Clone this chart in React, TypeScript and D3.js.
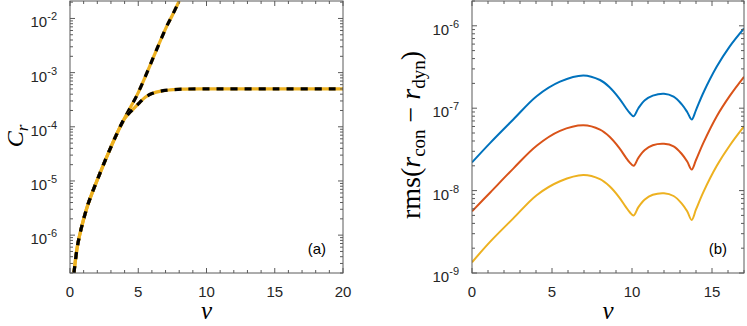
import React from 'react';
import * as d3 from 'd3';

// panel (a): C_r against v, two branches sharing the low-v part
const sharedV = [0.29, 0.54, 0.86, 1.35, 2.2, 3.06, 3.5, 3.92];
const sharedC = [2e-7, 6.2e-7, 1.45e-6, 3.9e-6, 1.4e-5, 4.6e-5, 8.1e-5, 1.32e-4];
const upperV = [4.3, 4.9, 5.64, 6.3, 7.1, 7.5, 8.0];
const upperC = [2e-4, 3.8e-4, 1e-3, 2.5e-3, 7.3e-3, 1.15e-2, 2.1e-2];
const lowerV = [4.3, 4.7, 5.1, 5.51, 6.0, 6.74, 7.35, 8.2, 10, 15, 20];
const lowerC = [1.75e-4, 2.2e-4, 2.8e-4, 3.5e-4, 4.1e-4, 4.6e-4, 4.8e-4, 4.95e-4, 5e-4, 5e-4, 5e-4];

// panel (b): rms(r_con - r_dyn) for three cases
const rmsV = [0, 1.14, 2.58, 4.04, 5.5, 6.96, 8.0, 8.6, 9.2, 9.6, 9.85, 10.1, 10.4, 10.8, 11.3, 12.0, 12.6, 13.1, 13.45, 13.73, 14.0, 14.46, 15.3, 16.1, 17];
const rmsBlue = [2.2e-8, 3.8e-8, 7.3e-8, 1.4e-7, 2.1e-7, 2.5e-7, 2.2e-7, 1.8e-7, 1.32e-7, 1.02e-7, 8.8e-8, 8e-8, 1.0e-7, 1.25e-7, 1.42e-7, 1.5e-7, 1.38e-7, 1.12e-7, 9e-8, 7.3e-8, 9.5e-8, 1.54e-7, 3.2e-7, 5.6e-7, 9.3e-7];
const rmsOrange = [5.6e-9, 9.5e-9, 1.85e-8, 3.5e-8, 5.3e-8, 6.2e-8, 5.5e-8, 4.5e-8, 3.3e-8, 2.55e-8, 2.2e-8, 2.0e-8, 2.5e-8, 3.1e-8, 3.55e-8, 3.7e-8, 3.45e-8, 2.8e-8, 2.25e-8, 1.8e-8, 2.35e-8, 3.8e-8, 8e-8, 1.4e-7, 2.4e-7];
const rmsYellow = [1.35e-9, 2.4e-9, 4.6e-9, 8.8e-9, 1.3e-8, 1.55e-8, 1.38e-8, 1.13e-8, 8.3e-9, 6.4e-9, 5.5e-9, 5e-9, 6.3e-9, 7.8e-9, 8.9e-9, 9.3e-9, 8.6e-9, 7e-9, 5.6e-9, 4.4e-9, 5.9e-9, 9.6e-9, 2e-8, 3.5e-8, 6e-8];

const xTicksA = [0, 5, 10, 15, 20];
const yDecadesA = [-6, -5, -4, -3, -2];
const xTicksB = [0, 5, 10, 15];
const yDecadesB = [-9, -8, -7, -6];

const tickFont = '"Liberation Sans", Arial, sans-serif';
const mathFont = '"Liberation Serif", "Times New Roman", serif';
const axisColor = '#5a5a5a';

type Pt = [number, number];
const zip = (xs: number[], ys: number[]): Pt[] => xs.map((x, i) => [x, ys[i]]);

function Panel({ id, left, right, top, bottom, xDomain, yDomain, xTicks, decades, tag, children }: any) {
  const x = d3.scaleLinear().domain(xDomain).range([left, right]);
  const y = d3.scaleLog().domain(yDomain).range([bottom, top]);
  const minorX = d3.range(xDomain[0], xDomain[1] + 0.001, 1).filter((v) => !xTicks.includes(v));
  const minorY: number[] = [];
  for (let k = Math.floor(Math.log10(yDomain[0])); k <= Math.ceil(Math.log10(yDomain[1])); k++) {
    for (let j = 2; j <= 9; j++) {
      const v = j * Math.pow(10, k);
      if (v >= yDomain[0] && v <= yDomain[1]) minorY.push(v);
    }
  }
  const major = 5;
  const minor = 3;
  return (
    <g>
      <defs>
        <clipPath id={id}>
          <rect x={left} y={top} width={right - left} height={bottom - top} />
        </clipPath>
      </defs>
      <g clipPath={`url(#${id})`}>{children(x, y)}</g>
      <rect x={left} y={top} width={right - left} height={bottom - top} fill="none" stroke={axisColor} strokeWidth={1} />
      {xTicks.map((t: number) => (
        <g key={'xt' + t}>
          <line x1={x(t)} x2={x(t)} y1={bottom} y2={bottom - major} stroke={axisColor} />
          <line x1={x(t)} x2={x(t)} y1={top} y2={top + major} stroke={axisColor} />
          <text x={x(t)} y={bottom + 24} textAnchor="middle" fontFamily={tickFont} fontSize={15} fill="#262626">{t}</text>
        </g>
      ))}
      {minorX.map((t: number) => (
        <g key={'xm' + t}>
          <line x1={x(t)} x2={x(t)} y1={bottom} y2={bottom - minor} stroke={axisColor} />
          <line x1={x(t)} x2={x(t)} y1={top} y2={top + minor} stroke={axisColor} />
        </g>
      ))}
      {decades.map((k: number) => {
        const yy = y(Math.pow(10, k));
        return (
          <g key={'yt' + k}>
            <line x1={left} x2={left + major} y1={yy} y2={yy} stroke={axisColor} />
            <line x1={right} x2={right - major} y1={yy} y2={yy} stroke={axisColor} />
            <text x={left - 13} y={yy + 9} textAnchor="end" fontFamily={tickFont} fontSize={15} fill="#262626">
              10<tspan dy={-7} fontSize={11}>{k}</tspan>
            </text>
          </g>
        );
      })}
      {minorY.map((v: number, i: number) => (
        <g key={'ym' + i}>
          <line x1={left} x2={left + minor} y1={y(v)} y2={y(v)} stroke={axisColor} />
          <line x1={right} x2={right - minor} y1={y(v)} y2={y(v)} stroke={axisColor} />
        </g>
      ))}
      <text x={right - 17} y={bottom - 19} textAnchor="end" fontFamily={tickFont} fontSize={15} fill="#000">{tag}</text>
      <text x={(left + right) / 2} y={bottom + 46} textAnchor="middle" fontFamily={mathFont} fontStyle="italic" fontSize={25} fill="#000">v</text>
    </g>
  );
}

export default function App() {
  const upper = [...zip(sharedV, sharedC), ...zip(upperV, upperC)];
  const lower = [...zip(sharedV, sharedC), ...zip(lowerV, lowerC)];
  const series = [
    { vals: rmsBlue, color: '#0072BD' },
    { vals: rmsOrange, color: '#D95319' },
    { vals: rmsYellow, color: '#EDB120' },
  ];
  return (
    <svg width={747} height={326} style={{ position: 'absolute', left: 0, top: 0, background: '#fff' }}>
      <Panel id="clipA" left={70} right={343} top={1} bottom={273} xDomain={[0, 20]} yDomain={[2e-7, 2.1e-2]}
        xTicks={xTicksA} decades={yDecadesA} tag="(a)">
        {(x: any, y: any) => {
          const line = d3.line<Pt>().x((d) => x(d[0])).y((d) => y(d[1])).curve(d3.curveCatmullRom.alpha(0.5));
          return [upper, lower].map((pts, i) => (
            <g key={i}>
              <path d={line(pts) || ''} fill="none" stroke="#EDB120" strokeWidth={3.2} />
              <path d={line(pts) || ''} fill="none" stroke="#000" strokeWidth={3.2} strokeDasharray="7 7" />
            </g>
          ));
        }}
      </Panel>
      <Panel id="clipB" left={472} right={744} top={1} bottom={273} xDomain={[0, 17]} yDomain={[1e-9, 2e-6]}
        xTicks={xTicksB} decades={yDecadesB} tag="(b)">
        {(x: any, y: any) => {
          const line = d3.line<Pt>().x((d) => x(d[0])).y((d) => y(d[1])).curve(d3.curveCatmullRom.alpha(0.5));
          return series.map((s) => (
            <path key={s.color} d={line(zip(rmsV, s.vals)) || ''} fill="none" stroke={s.color} strokeWidth={2} />
          ));
        }}
      </Panel>
      <text transform="translate(23,136) rotate(-90)" textAnchor="middle" fontFamily={mathFont} fontStyle="italic" fontSize={24} fill="#000">
        C<tspan dy={5} fontSize={17}>r</tspan>
      </text>
      <text transform="translate(420,135) rotate(-90)" textAnchor="middle" fontFamily={mathFont} fontSize={28} fill="#000">
        rms(<tspan fontStyle="italic">r</tspan><tspan dy={5} fontSize={19}>con</tspan><tspan dy={-5}> − </tspan><tspan fontStyle="italic">r</tspan><tspan dy={5} fontSize={19}>dyn</tspan><tspan dy={-5}>)</tspan>
      </text>
    </svg>
  );
}
